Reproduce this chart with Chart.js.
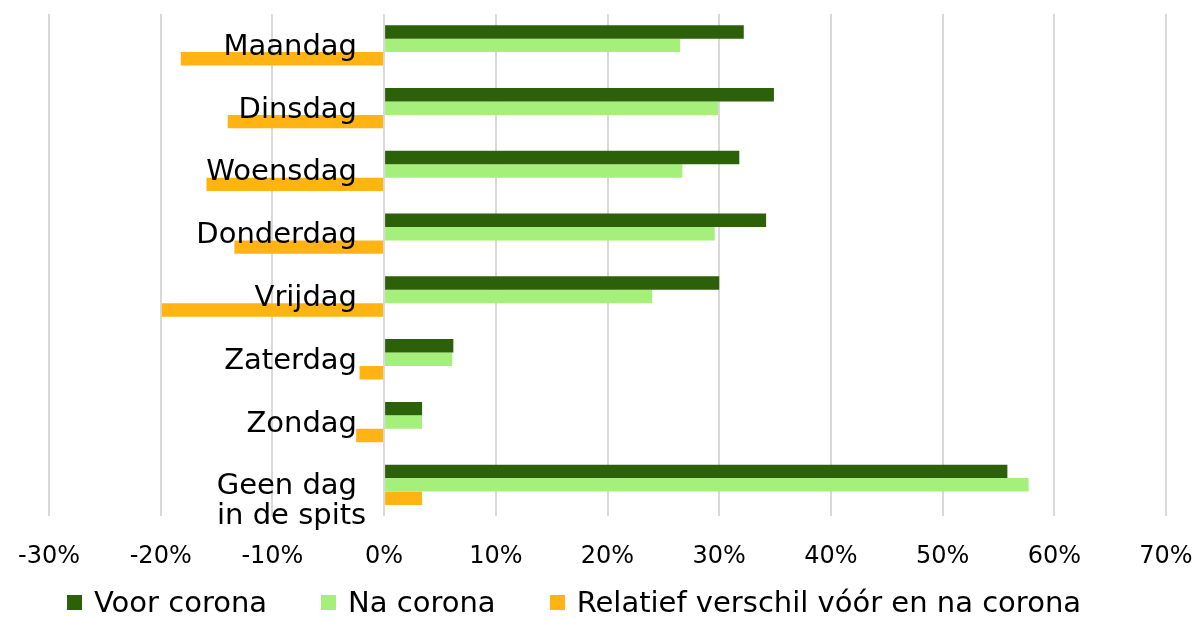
<!DOCTYPE html>
<html lang="nl">
<head>
<meta charset="UTF-8">
<title>Spitsdagen voor en na corona</title>
<script src="https://cdn.jsdelivr.net/npm/chart.js"></script>
<style>
  html, body { margin: 0; padding: 0; background: #fff; }
  #kader { position: relative; width: 1198px; height: 618px; }
  canvas { display: block; }
  #legenda {
    position: absolute; left: 67px; top: 588px; height: 29px;
    display: flex; align-items: center;
    font-family: 'DejaVu Sans', sans-serif; font-size: 29px; line-height: 29px; color: #000;
    white-space: nowrap;
  }
  #legenda .item { display: flex; align-items: center; margin-right: 54px; }
  #legenda .blok { width: 15px; height: 15px; margin-right: 12px; }
</style>
</head>
<body>
<div id="kader">
  <canvas id="grafiek" width="1198" height="618"></canvas>
  <div id="legenda"></div>
</div>
<script>
// dagen waarop men in de spits reist
const dagen = ['Maandag', 'Dinsdag', 'Woensdag', 'Donderdag', 'Vrijdag', 'Zaterdag', 'Zondag', ['Geen dag', 'in de spits']];

// aandeel in procenten
const voorCorona = [32.2, 34.9, 31.8, 34.2, 30.0, 6.2, 3.4, 55.8];
const naCorona = [26.5, 29.9, 26.7, 29.6, 24.0, 6.1, 3.4, 57.7];
const relatiefVerschil = [-18.2, -14.0, -15.9, -13.4, -19.9, -2.2, -2.5, 3.4];

const reeksNamen = ['Voor corona', 'Na corona', 'Relatief verschil vóór en na corona'];
const reeksKleuren = ['#2C6109', '#A4F07A', '#FFB414'];

// x-as van -30% tot 70% in stappen van 10
const asBereik = [-30, 70];
const asStap = 10;

const lettertype = 'DejaVu Sans';

// legenda onder de grafiek, opgebouwd uit de datasets
const htmlLegenda = {
    id: 'htmlLegenda',
    afterUpdate(chart) {
        const doel = document.getElementById('legenda');
        doel.innerHTML = '';
        chart.data.datasets.forEach(ds => {
            const item = document.createElement('span');
            item.className = 'item';
            const blok = document.createElement('span');
            blok.className = 'blok';
            blok.style.background = ds.backgroundColor;
            item.appendChild(blok);
            item.appendChild(document.createTextNode(ds.label));
            doel.appendChild(item);
        });
    }
};

new Chart(document.getElementById('grafiek'), {
    type: 'bar',
    data: {
        labels: dagen,
        datasets: [voorCorona, naCorona, relatiefVerschil].map((waarden, i) => ({
            label: reeksNamen[i],
            data: waarden,
            backgroundColor: reeksKleuren[i],
            borderWidth: 0,
            barPercentage: 1,
            categoryPercentage: 0.642
        }))
    },
    options: {
        indexAxis: 'y',
        responsive: false,
        animation: false,
        devicePixelRatio: 1,
        layout: {
            padding: { top: 14, left: 0, right: 0, bottom: 21 }
        },
        scales: {
            x: {
                position: 'bottom',
                min: asBereik[0],
                max: asBereik[1],
                ticks: {
                    stepSize: asStap,
                    padding: 26,
                    color: '#000',
                    font: { family: lettertype, size: 24 },
                    callback: v => v + '%'
                },
                grid: {
                    color: '#d9d9d9',
                    lineWidth: 2,
                    drawTicks: false
                },
                border: { display: false },
                afterFit(schaal) {
                    // ruimte links/rechts van het plotgebied vastzetten
                    schaal.paddingLeft = 49;
                    schaal.paddingRight = 32;
                }
            },
            y: {
                // labels rechts uitgelijnd net links van de 0%-lijn
                position: { x: -1.6 },
                ticks: {
                    z: 1, // tekst boven de balken
                    autoSkip: false,
                    labelOffset: 2,
                    color: '#000',
                    font: { family: lettertype, size: 29, lineHeight: 1.03 },
                    callback: function (waarde) {
                        const label = this.getLabelForValue(waarde);
                        // tweeregelig label: eerste regel op het midden van de categorie
                        return Array.isArray(label) ? ['', label[0] + ' ', label[1]] : label + ' ';
                    }
                },
                grid: { display: false, drawTicks: false },
                border: { display: false },
                afterFit(schaal) {
                    schaal.paddingTop = 0;
                    schaal.paddingBottom = 0;
                }
            }
        },
        plugins: {
            legend: { display: false },
            tooltip: { enabled: false }
        }
    },
    plugins: [htmlLegenda]
});
</script>
</body>
</html>
